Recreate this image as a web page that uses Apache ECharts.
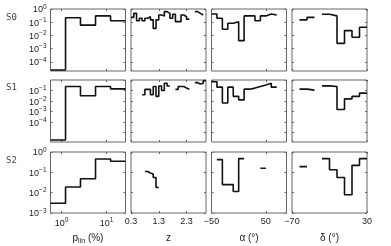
<!DOCTYPE html>
<html><head><meta charset="utf-8">
<script src="https://cdn.jsdelivr.net/npm/echarts@6/dist/echarts.min.js"></script>
<style>html,body{margin:0;padding:0;background:#fff}#c{width:391px;height:246px}</style>
</head><body><div id="c"></div>
<script>
const rowLabels = ['S0', 'S1', 'S2'];
const xNames = ['{a|p}{b|lin}{a| (%)}', 'z', 'α (°)', 'δ (°)'];

// bin edges per column
const pEdges = [0.57, 1.23, 2.64, 5.7, 12.3, 26.4];
const zEdges = [0.3, 0.4, 0.5, 0.6, 0.7, 0.8, 0.9, 1.0, 1.1, 1.2, 1.3, 1.4, 1.5, 1.6, 1.7, 1.8, 1.9, 2.0, 2.1, 2.2, 2.3, 2.4, 2.5, 2.6, 2.7, 2.8, 2.9, 3.0];
const alphaEdges = [-50, -40, -30, -20, -10, 0, 10, 20, 30, 40, 50, 60, 70];
const deltaEdges = [-70, -60, -50, -40, -30, -20, -10, 0, 10, 20, 30];

// series values (fractions), null = empty bin
const S0_p = [2.4e-5, 0.22, 0.06, 0.30, 0.13];
const S1_p = [2e-6, 0.24, 0.032, 0.24, 0.145];
const S2_p = [0.003, 0.019, 0.048, 0.45, 0.35];

const S0_z = [0.23, 0.47, 0.13, 0.20, 0.13, 0.20, 0.26, 0.15, 0.034, 0.15, 0.35, 0.30, 0.63, 0.47, 0.20, 0.40, 0.11, 0.11, 0.35, 0.26, 0.17, null, null, 0.63, 0.47, 0.35, null];
const S1_z = [null, null, null, null, 0.04, 0.13, 0.13, 0.04, 0.24, 0.028, 0.27, 0.10, 0.49, 0.27, null, null, 0.13, 0.24, 0.24, 0.17, 0.13, null, null, 0.56, 0.42, 0.49, 0.87];
const S2_z = [null, null, null, null, null, 0.11, 0.093, 0.083, 0.056, 0.018, null, null, null, null, null, null, null, null, null, null, null, null, null, null, null, null, null];

const S0_alpha = [0.42, 0.20, 0.029, 0.083, 0.11, 0.004, 0.30, 0.30, 0.13, 0.30, 0.42, 0.35];
const S1_alpha = [0.69, 0.21, 0.0066, 0.21, 0.028, 0.013, 0.135, 0.17, 0.24, 0.34, 0.49, 0.21];
const S2_alpha = [null, 0.42, 0.025, 0.025, 0.0115, 0.47, null, null, null, 0.16, null, null];

const S0_delta = [null, 0.15, 0.23, null, 0.40, 0.30, 0.0025, 0.023, 0.0072, 0.041];
const S1_delta = [null, 0.135, 0.11, null, 0.275, 0.24, 0.0016, 0.016, 0.028, 0.057];
const S2_delta = [null, 0.19, null, null, 0.47, 0.134, 0.056, 0.0079, 0.22, 0.47];

// y ranges per row and tick labels
const yMin = [2e-5, 1.3e-6, 1e-3];
const yTicks = [
  [1e-4, 1e-3, 1e-2, 1e-1, 1],
  [1e-5, 1e-4, 1e-3, 1e-2, 1e-1, 1],
  [1e-3, 1e-2, 1e-1, 1]
];
const pTicks = [1, 10];
const zTicks = [0.3, 1.3, 2.3];
const alphaTicks = [-50, 50];
const deltaTicks = [-70, 30];

const edgesByCol = [pEdges, zEdges, alphaEdges, deltaEdges];
const data = [
  [S0_p, S0_z, S0_alpha, S0_delta],
  [S1_p, S1_z, S1_alpha, S1_delta],
  [S2_p, S2_z, S2_alpha, S2_delta]
];

const FONT = 'Liberation Sans';
const lefts = [50.5, 131, 211.5, 292];
const tops = [9, 80, 152];
const W = 75, H = [62, 62, 61];

function stairs(edges, vals) {
  const pts = [];
  for (let i = 0; i < vals.length; i++) {
    const v = vals[i];
    if (v == null) {
      if (pts.length && pts[pts.length - 1][1] !== '-') pts.push([edges[i], '-']);
      continue;
    }
    pts.push([edges[i], v]);
    pts.push([edges[i + 1], v]);
  }
  return pts;
}
function sup(v) {
  const e = Math.round(Math.log10(v));
  return '{b|10}{s|' + (e < 0 ? '\u2212' + (-e) : String(e)) + '}';
}
const supRich = {
  b: { fontSize: 9, fontFamily: FONT, color: '#222', lineHeight: 11, padding: [4, 0, 0, 0], verticalAlign: 'bottom' },
  s: { fontSize: 6.5, fontFamily: FONT, color: '#222', lineHeight: 8, verticalAlign: 'top' }
};
function fmtNum(v) { return String(v).replace('-', '\u2212'); }

const grids = [], xAxes = [], yAxes = [], series = [];
const xRange = [[0.57, 26.4], [0.3, 3.0], [-50, 88], [-70, 30]];
const xTickVals = [pTicks, zTicks, alphaTicks, deltaTicks];
const tickStyle = { show: true, inside: true, length: 2, lineStyle: { color: '#666' } };
for (let r = 0; r < 3; r++) {
  for (let c = 0; c < 4; c++) {
    const idx = r * 4 + c;
    grids.push({ left: lefts[c], top: tops[r], width: W, height: H[r], show: true, borderColor: '#666', borderWidth: 1, outerBoundsMode: 'none' });
    const xBase = {
      gridIndex: idx, type: c === 0 ? 'log' : 'value', min: xRange[c][0], max: xRange[c][1],
      axisLine: { show: false, onZero: false }, splitLine: { show: false }
    };
    const yBase = {
      gridIndex: idx, type: 'log', logBase: 10, min: yMin[r], max: 1,
      axisLine: { show: false, onZero: false }, splitLine: { show: false }
    };
    // main (bottom / left) axes
    xAxes.push(Object.assign({}, xBase, {
      position: 'bottom',
      name: r === 2 ? xNames[c] : '', nameLocation: 'middle', nameGap: 20,
      nameTextStyle: { fontSize: 10, fontFamily: FONT, color: '#222',
        rich: { a: { fontSize: 10, fontFamily: FONT, color: '#222', lineHeight: 12, verticalAlign: 'top' },
                b: { fontSize: 7, fontFamily: FONT, color: '#222', lineHeight: 8, padding: [6, 0, 0, 0], verticalAlign: 'bottom' } } },
      axisTick: Object.assign({ customValues: xTickVals[c] }, tickStyle),
      axisLabel: { show: r === 2, margin: 4, fontSize: 9, fontFamily: FONT, color: '#222', customValues: xTickVals[c],
        formatter: c === 0 ? sup : fmtNum, rich: supRich, hideOverlap: false }
    }));
    yAxes.push(Object.assign({}, yBase, {
      position: 'left',
      axisTick: Object.assign({ customValues: yTicks[r] }, tickStyle),
      axisLabel: { show: c === 0, margin: 4, customValues: yTicks[r], formatter: sup, rich: supRich, hideOverlap: false }
    }));
    series.push({
      type: 'line', xAxisIndex: idx, yAxisIndex: idx, data: stairs(edgesByCol[c], data[r][c]),
      showSymbol: false, symbol: 'none', connectNulls: false, animation: false,
      lineStyle: { color: '#111', width: 1.6 }, clip: true
    });
  }
}
// mirrored (top / right) tick-only axes
for (let r = 0; r < 3; r++) {
  for (let c = 0; c < 4; c++) {
    const idx = r * 4 + c;
    xAxes.push({
      gridIndex: idx, type: c === 0 ? 'log' : 'value', min: xRange[c][0], max: xRange[c][1], position: 'top',
      axisLine: { show: false, onZero: false }, splitLine: { show: false }, axisLabel: { show: false },
      axisTick: Object.assign({ customValues: xTickVals[c] }, tickStyle)
    });
    yAxes.push({
      gridIndex: idx, type: 'log', logBase: 10, min: yMin[r], max: 1, position: 'right',
      axisLine: { show: false, onZero: false }, splitLine: { show: false }, axisLabel: { show: false },
      axisTick: Object.assign({ customValues: yTicks[r] }, tickStyle)
    });
  }
}

const chart = echarts.init(document.getElementById('c'), null, { renderer: 'canvas' });
chart.setOption({
  animation: false,
  backgroundColor: '#fff',
  grid: grids, xAxis: xAxes, yAxis: yAxes, series: series,
  graphic: rowLabels.map((t, i) => ({
    type: 'text', left: 6, top: [13, 83, 156][i],
    style: { text: t, fontSize: 9, fontFamily: 'DejaVu Sans Mono', fill: '#444' }
  }))
});
</script></body></html>
